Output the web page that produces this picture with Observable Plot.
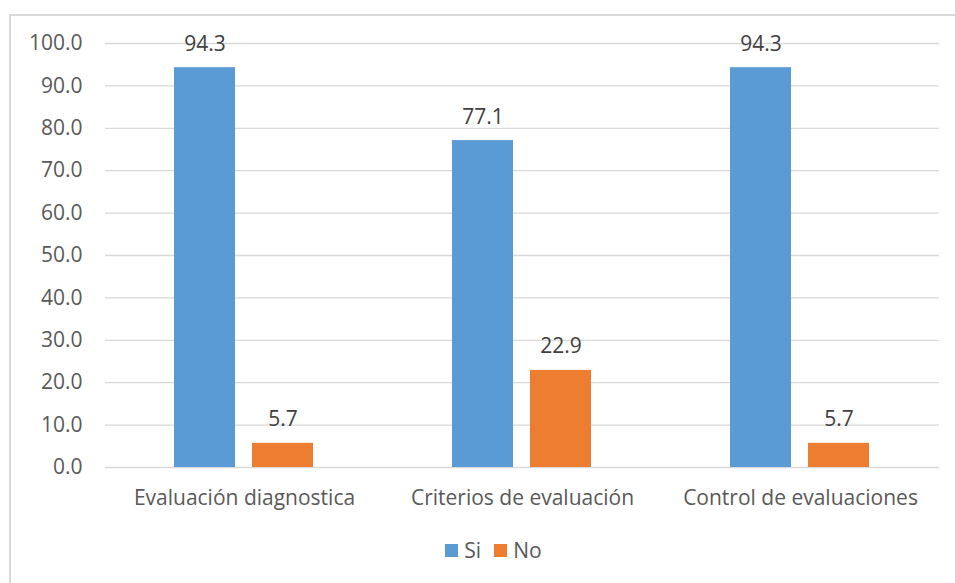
<!DOCTYPE html>
<html>
<head>
<meta charset="utf-8">
<script src="https://cdn.jsdelivr.net/npm/d3@7"></script>
<script src="https://cdn.jsdelivr.net/npm/@observablehq/plot@0.6"></script>
<style>
  html, body { margin: 0; padding: 0; background: #fff; }
  body { width: 955px; height: 583px; position: relative; overflow: hidden; font-family: "Open Sans", sans-serif; }
  #frame { position: absolute; left: 9px; top: 14px; width: 960px; height: 600px; border: 2px solid #d9d9d9; box-sizing: border-box; }
  #chart { position: absolute; left: 0; top: 0; }
  #legend { position: absolute; top: 536px; left: 0; width: 955px; display: flex; justify-content: center; align-items: center; gap: 13px; font-size: 21px; color: #595959; padding-left: 32px; box-sizing: border-box; }
  .key { display: flex; align-items: center; gap: 6px; }
  .sw { width: 13px; height: 13px; display: inline-block; }
</style>
</head>
<body>
<div id="frame"></div>
<div id="chart"></div>
<div id="legend"></div>
<script>
const categories = ["Evaluación diagnostica", "Criterios de evaluación", "Control de evaluaciones"];
const seriesNames = ["Si", "No"];
const siValues = [94.3, 77.1, 94.3];
const noValues = [5.7, 22.9, 5.7];
const yTicks = [0, 10, 20, 30, 40, 50, 60, 70, 80, 90, 100];
const colors = ["#5B9BD5", "#ED7D31"];

const data = [];
categories.forEach((c, i) => {
  data.push({category: c, series: "Si", value: siValues[i]});
  data.push({category: c, series: "No", value: noValues[i]});
});

const chart = Plot.plot({
  width: 955,
  height: 530,
  marginLeft: 104,
  marginRight: 15,
  marginTop: 43,
  marginBottom: 63,
  style: {fontFamily: "'Open Sans', sans-serif", fontSize: "21px", color: "#595959", background: "transparent"},
  fx: {domain: categories, padding: 0, label: null, tickSize: 0, tickPadding: 23},
  x: {domain: seriesNames, paddingInner: 0.215, paddingOuter: 0.871, axis: null},
  y: {domain: [0, 100], ticks: yTicks, tickFormat: d => d.toFixed(1), label: null, tickSize: 0, tickPadding: 23},
  color: {domain: seriesNames, range: colors},
  marks: [
    Plot.gridY(yTicks, {stroke: "#d9d9d9", strokeOpacity: 1, strokeWidth: 1.3}),
    Plot.barY(data, {fx: "category", x: "series", y: "value", fill: "series"}),
    Plot.text(data, {fx: "category", x: "series", y: "value", text: d => d.value.toFixed(1), lineAnchor: "bottom", dy: -17, fill: "#404040", fontSize: 21})
  ]
});
document.getElementById("chart").appendChild(chart);

const legend = document.getElementById("legend");
seriesNames.forEach((s, i) => {
  const k = document.createElement("span");
  k.className = "key";
  const sw = document.createElement("span");
  sw.className = "sw";
  sw.style.background = colors[i];
  const t = document.createElement("span");
  t.textContent = s;
  k.appendChild(sw); k.appendChild(t);
  legend.appendChild(k);
});
</script>
</body>
</html>
